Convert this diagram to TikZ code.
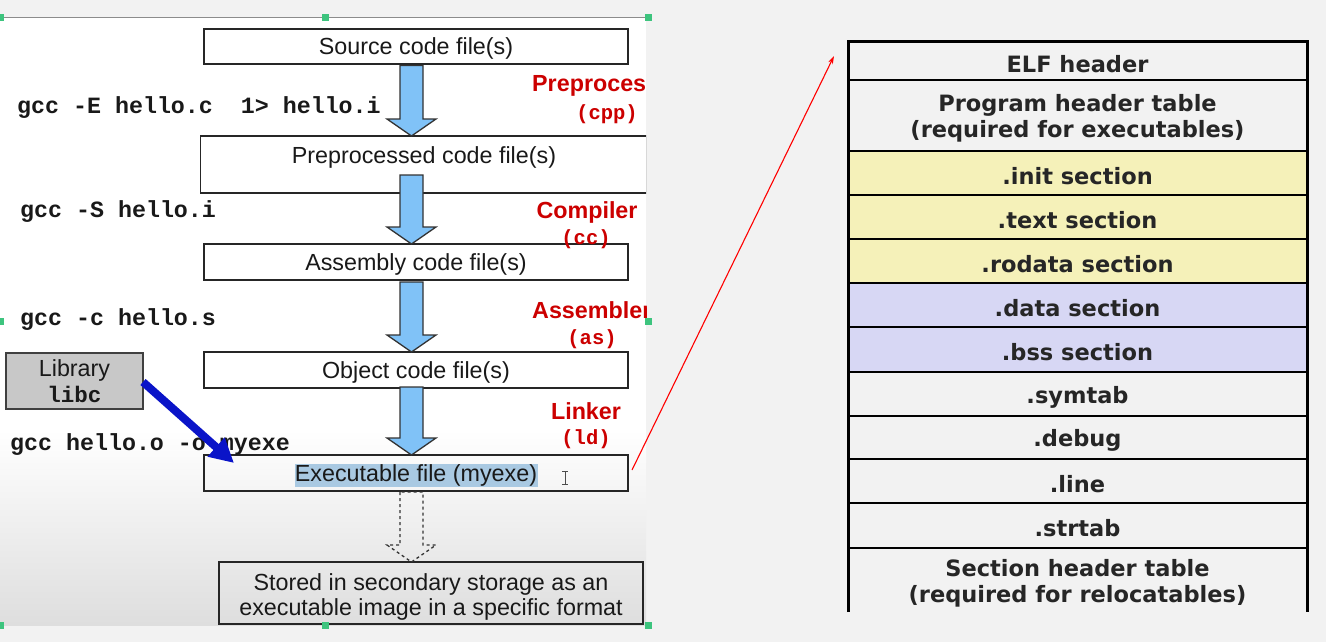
\documentclass[tikz,border=0pt]{standalone}
\usepackage{fontspec}
\setmainfont{Liberation Sans}
\newfontfamily\monof{Liberation Mono}
\newfontfamily\elff{DejaVu Sans}
\usetikzlibrary{calc,arrows.meta}
\definecolor{bg}{HTML}{F2F2F2}
\definecolor{arrowblue}{HTML}{80C2F7}
\definecolor{labred}{HTML}{CC0000}
\definecolor{libblue}{HTML}{0A14C8}
\definecolor{yel}{HTML}{F5F1B9}
\definecolor{lav}{HTML}{D7D7F4}
\definecolor{hl}{HTML}{A9C9E2}
\definecolor{handle}{HTML}{3DC47E}
\definecolor{libgray}{HTML}{C8C8C8}
\newcommand\fatarrow[3][]{%
  \draw[#1] ($(#2)+(-11.5,0)$) -- ($(#3)+(-11.5,-17)$) -- ($(#3)+(-24.5,-17)$) -- (#3)
    -- ($(#3)+(24.5,-17)$) -- ($(#3)+(11.5,-17)$) -- ($(#2)+(11.5,0)$) -- cycle;}
\begin{document}
\begin{tikzpicture}[x=1pt,y=-1pt,
  box/.style={draw=black!85, line width=1.8pt, inner sep=0pt, outer sep=0pt},
  boxtext/.style={font=\fontsize{23.3}{25}\selectfont, text=black!90, align=center},
  onetext/.style={text height=22pt, text depth=5pt},
  cmd/.style={font=\monof\bfseries\fontsize{23.3}{27}\selectfont, anchor=west, inner sep=0pt, text=black!90},
  redlab/.style={font=\bfseries\fontsize{23.3}{27}\selectfont, text=labred, inner sep=0pt},
  redmono/.style={font=\monof\bfseries\fontsize{20.5}{24}\selectfont, text=labred, inner sep=0pt},
  row/.style={inner sep=0pt, outer sep=0pt, minimum width=459pt, anchor=north},
  rowlabel/.style={font=\elff\bfseries\fontsize{22.5}{26}\selectfont, text=black!85,
    align=center, inner sep=0pt, yshift=-3pt},
  solidarrow/.style={fill=arrowblue, draw=black!80, line width=1.3pt, line join=miter},
  dasharrow/.style={draw=black!80, line width=1.3pt, dashed},
]
\useasboundingbox[fill=bg] (0,0) rectangle (1326,642);

% left panel
\fill[white] (0,18) rectangle (646,625);
\shade[top color=white, bottom color=black!13] (0,430) rectangle (646,625);
\draw[black!45, line width=1pt] (3,18) -- (646,18);

\begin{scope}
\clip (0,18) rectangle (646,625);
\node[box, boxtext, onetext, minimum width=424pt, minimum height=35pt] (src) at (416,46.5) {Source code file(s)};
\node[box, minimum width=446pt, minimum height=57pt] (pre) at (423.5,164.5) {};
\node[boxtext, inner sep=0pt] (pretext) at (424,157.5) {Preprocessed code file(s)};
\node[box, boxtext, onetext, minimum width=424pt, minimum height=36pt] (asm) at (416,262) {Assembly code file(s)};
\node[box, boxtext, onetext, minimum width=424pt, minimum height=36pt] (obj) at (416,370) {Object code file(s)};
\fill[hl] (295,464) rectangle (538,487);
\node[box, boxtext, onetext, minimum width=424pt, minimum height=36pt] (exe) at (416,473) {Executable file (myexe)};
\node[box, minimum width=424pt, minimum height=62pt] (sto) at (431,593) {};
\node[boxtext, inner sep=0pt] (stotext) at (431,596.5)
  {Stored in secondary storage as an\\executable image in a specific format};
\node[box, boxtext, draw=black!75, fill=libgray, minimum width=137pt, minimum height=56pt] (lib) at (74.5,381)
  {Library\\[1pt]{\monof\bfseries\fontsize{22.5}{25}\selectfont libc}};

% block arrows
\coordinate (a1s) at ($(src.south)+(-4.5,1.5)$);
\coordinate (a1t) at (a1s |- pre.north);
\coordinate (a2s) at ($(a1s |- pre.south)+(0,-18)$);
\coordinate (a2t) at (a1s |- asm.north);
\coordinate (a3s) at ($(a1s |- asm.south)+(0,2)$);
\coordinate (a3t) at (a1s |- obj.north);
\coordinate (a4s) at ($(a1s |- obj.south)+(0,-1)$);
\coordinate (a4t) at (a1s |- exe.north);
\coordinate (a5s) at ($(a1s |- exe.south)+(0,1)$);
\coordinate (a5t) at (a1s |- sto.north);
\fatarrow[solidarrow]{a1s}{a1t}
\fatarrow[solidarrow]{a2s}{a2t}
\fatarrow[solidarrow]{a3s}{a3t}
\fatarrow[solidarrow]{a4s}{a4t}
\fatarrow[dasharrow]{a5s}{a5t}

% commands
\node[cmd] (c1) at (17,107.5) {gcc -E hello.c\ \ 1> hello.i};
\node[cmd] (c2) at (20,211.5) {gcc -S hello.i};
\node[cmd] (c3) at (20,319.5) {gcc -c hello.s};
\node[cmd] (c4) at (10,444.5) {gcc hello.o -o myexe};

% red labels
\node[redlab, anchor=west] (l1) at (532,85.5) {Preproces};
\node[redmono] (l1b) at (607,114) {(cpp)};
\node[redlab] (l2) at (587,212.5) {Compiler};
\node[redmono] (l2b) at (586,239) {(cc)};
\node[redlab, anchor=west] (l3) at (532,310.5) {Assembler};
\node[redmono] (l3b) at (592,339) {(as)};
\node[redlab] (l4) at (586,411.5) {Linker};
\node[redmono] (l4b) at (586,439) {(ld)};

% library arrow
\coordinate (libtip) at (234,463);
\draw[libblue, line width=8pt, -{Triangle[length=24pt,width=24pt]}] ($(lib.east)+(0,1)$) -- (libtip);

% text cursor
\draw[black!70, line width=1pt] (565,471) -- (565,484) (562,471) -- (568,471) (562,484) -- (568,484);
\end{scope}

% selection handles
\foreach \hx/\hy in {0/18,325/18,648/18,0/321,648/321,0/625,325/625,648/625}
  \fill[handle] (\hx-3.5,\hy-3.5) rectangle (\hx+3.5,\hy+3.5);

% ELF table
\node[row, minimum height=38pt, label={[rowlabel]center:ELF header}] (e1) at (1077.5,42) {};
\node[row, minimum height=71pt, label={[rowlabel]center:{Program header table\\(required for executables)}}] (e2) at (e1.south) {};
\node[row, minimum height=44pt, fill=yel, label={[rowlabel]center:.init section}] (e3) at (e2.south) {};
\node[row, minimum height=44pt, fill=yel, label={[rowlabel]center:.text section}] (e4) at (e3.south) {};
\node[row, minimum height=44pt, fill=yel, label={[rowlabel]center:.rodata section}] (e5) at (e4.south) {};
\node[row, minimum height=44pt, fill=lav, label={[rowlabel]center:.data section}] (e6) at (e5.south) {};
\node[row, minimum height=45pt, fill=lav, label={[rowlabel]center:.bss section}] (e7) at (e6.south) {};
\node[row, minimum height=44pt, label={[rowlabel]center:.symtab}] (e8) at (e7.south) {};
\node[row, minimum height=43pt, label={[rowlabel]center:.debug}] (e9) at (e8.south) {};
\node[row, minimum height=44pt, label={[rowlabel]center:.line}] (e10) at (e9.south) {};
\node[row, minimum height=45pt, label={[rowlabel]center:.strtab}] (e11) at (e10.south) {};
\node[row, minimum height=64pt, label={[rowlabel]center:{Section header table\\(required for relocatables)}}] (e12) at (e11.south) {};
\foreach \r in {e1,e2,e3,e4,e5,e6,e7,e8,e9,e10,e11}
  \draw[black, line width=2.4pt] (\r.south west) -- (\r.south east);
\draw[black, line width=3pt] (e12.south west) -- (e1.north west) -- (e1.north east) -- (e12.south east);

% red pointer
\coordinate (elfptr) at (834,56);
\draw[red, line width=1.1pt, -{Stealth[length=8pt,width=5pt]}] ($(exe.east)+(4,-3)$) -- (elfptr);
\end{tikzpicture}
\end{document}
